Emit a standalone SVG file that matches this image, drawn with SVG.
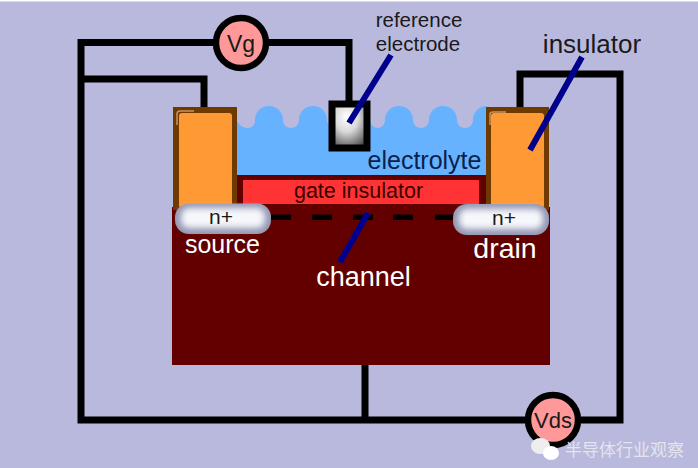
<svg xmlns="http://www.w3.org/2000/svg" width="698" height="468" viewBox="0 0 698 468">
<style>
text{font-family:"Liberation Sans",Arial,sans-serif}
.w{fill:none;stroke:#000;stroke-width:7}
.b{fill:none;stroke:#00008c;stroke-width:6}
.m{fill:#ff9999;stroke:#000;stroke-width:6.5}
.nb{fill:#9397b2}
.ni{fill:#f6f7fb;filter:url(#bl)}
.d{fill:#000}
.k{fill:#1a1a1a;text-anchor:middle}
.wt{fill:#fff;text-anchor:middle}
.hl{fill:none;stroke:#c99560;stroke-width:1.500}
</style>
<defs>
<filter id="bl" x="-20%" y="-40%" width="140%" height="180%"><feGaussianBlur stdDeviation="3"/></filter>
<radialGradient id="eg" cx=".42" cy=".3" r=".75"><stop offset="0" stop-color="#fff"/><stop offset=".45" stop-color="#d8d8d8"/><stop offset="1" stop-color="#505050"/></radialGradient>
</defs>
<rect width="698" height="468" fill="#b9b9dd"/>
<rect width="698" height="1.5" fill="#fff"/>
<g id="connectors">
<path class="w" d="M214 42.500H81V420H525M268 42.500H349V103M81 79H204V108M365 364V420M581 420H620V74H520V108"/>
</g>
<g id="substrate"><rect x="172" y="207" width="378" height="158" fill="#620000"/></g>
<g id="electrolyte"><path fill="#66b2ff" d="M237 176V121C240 126 244 128 248 128C253 128 255 124 255 120C255 112 261 106 269 106C277 106 283 112 283 120C283 125 287 128 291 128C295 128 299 125 299 120C299 112 305 106 313 106C321 106 327 112 327 120C327 125 331 128 335 128C338 128 342 125 342 120C342 112 348 106 356 106C364 106 370 112 370 120C370 125 374 128 378 128C381 128 385 125 385 120C385 112 391 106 399 106C407 106 413 112 413 120C413 125 417 128 421 128C425 128 429 125 429 120C429 112 435 106 443 106C451 106 457 112 457 120C457 125 461 128 465 128C469 128 473 125 473 120C473 112 479 106 487 106V176Z"/></g>
<g id="gate-insulator">
<rect x="237" y="175" width="250" height="33" fill="#620000"/>
<rect x="243" y="180" width="236" height="24" fill="#ff3333"/>
<text x="358.500" y="198" font-size="21.500" text-anchor="middle" fill="#3a0000">gate insulator</text>
</g>
<g id="channel">
<rect class="d" x="271" y="214.500" width="20" height="5.500"/>
<rect class="d" x="312" y="214.500" width="20" height="5.500"/>
<rect class="d" x="353" y="214.500" width="20" height="5.500"/>
<rect class="d" x="393" y="214.500" width="20" height="5.500"/>
<rect class="d" x="435" y="214.500" width="20" height="5.500"/>
<text x="363.500" y="286" font-size="27" class="wt">channel</text>
</g>
<g id="insulator-left">
<rect x="173" y="107" width="64" height="103" fill="#6f3a00"/>
<rect x="179" y="113" width="53" height="95" rx="3" fill="#ff9933"/>
<path class="hl" d="M177 125V114Q177 111 180 111H194"/>
</g>
<g id="insulator-right">
<rect x="486" y="107" width="63" height="103" fill="#6f3a00"/>
<rect x="491" y="113" width="53" height="95" rx="3" fill="#ff9933"/>
<path class="hl" d="M490 125V114Q490 112 493 112H506"/>
</g>
<g id="reference-electrode">
<rect x="332" y="104" width="35" height="44" fill="url(#eg)" stroke="#000" stroke-width="7"/>
</g>
<g id="source">
<rect class="nb" x="175" y="203.500" width="96" height="30.500" rx="14"/>
<rect class="ni" x="181" y="208" width="84" height="20" rx="8"/>
<text x="221" y="224" font-size="21" class="k">n+</text>
<text x="222.500" y="253" font-size="25" class="wt">source</text>
</g>
<g id="drain">
<rect class="nb" x="453" y="204" width="96" height="31" rx="14"/>
<rect class="ni" x="459" y="209" width="84" height="20" rx="8"/>
<text x="504" y="225" font-size="21" class="k">n+</text>
<text x="505" y="258" font-size="28.500" class="wt">drain</text>
</g>
<g id="pointers">
<path class="b" d="M391 55L349 123M582 57L530 150M368 213L340 262"/>
</g>
<g id="Vg">
<circle class="m" cx="241" cy="43" r="25"/>
<text x="241" y="52" font-size="23" class="k">Vg</text>
</g>
<g id="Vds">
<circle class="m" cx="553" cy="420" r="25"/>
<text x="553" y="428" font-size="22" class="k">Vds</text>
</g>
<g id="labels">
<text x="419" y="27" font-size="20.500" class="k">reference</text>
<text x="418" y="51" font-size="20.500" class="k">electrode</text>
<text x="592" y="53" font-size="26" class="k">insulator</text>
<text x="424.500" y="168.500" font-size="25" text-anchor="middle" fill="#0a1f4d">electrolyte</text>
</g>
<g id="watermark">
<ellipse cx="540.500" cy="446" rx="9.500" ry="8" fill="#eee"/>
<ellipse cx="551" cy="453" rx="8" ry="7" fill="#fff"/>
<text x="565" y="456" font-size="17" fill="#e4e4ec" style="font-family:'Noto Sans CJK SC',sans-serif">半导体行业观察</text>
</g>
</svg>
